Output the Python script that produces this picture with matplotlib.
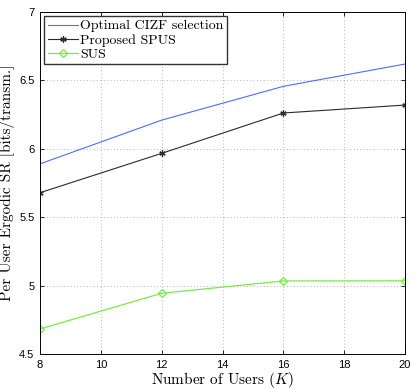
import numpy as np
import matplotlib
matplotlib.use("Agg")
import matplotlib.pyplot as plt

# Data
users = [8, 12, 16, 20]
optimal_cizf = [5.89, 6.21, 6.457, 6.62]
proposed_spus = [5.679, 5.967, 6.262, 6.32]
sus = [4.683, 4.944, 5.034, 5.035]

plt.rcParams['mathtext.fontset'] = 'cm'

fig = plt.figure(figsize=(4.15, 3.89), dpi=100)
ax = fig.add_axes([0.0964, 0.09, 0.8796, 0.879])

ax.plot(users, optimal_cizf, color='#4f6cff', lw=0.8, label='Optimal CIZF selection')
ax.plot(users, proposed_spus, color='#2b2b2b', lw=0.8, marker=(6, 2, 0), ms=4.5,
        mew=0.9, label='Proposed SPUS')
ax.plot(users, sus, color='#7ce84a', lw=0.9, marker='D', ms=4.5, mfc='none',
        mew=0.9, label='SUS')

ax.set_xlim(8, 20)
ax.set_ylim(4.5, 7)
ax.set_xticks(np.arange(8, 21, 2))
ax.set_yticks([4.5, 5, 5.5, 6, 6.5, 7])
ax.set_yticklabels(['4.5', '5', '5.5', '6', '6.5', '7'])
ax.tick_params(direction='in', labelsize=8, length=3, width=0.6, top=True, right=True, pad=4)
for lab in ax.get_xticklabels() + ax.get_yticklabels():
    lab.set_family('Liberation Sans')
for s in ax.spines.values():
    s.set_linewidth(0.7)
ax.grid(True, linestyle=(0, (1, 3)), color='#9a9a9a', lw=0.6)

ax.set_xlabel(r'Number of Users ($K$)', fontfamily='cmr10', fontsize=11, labelpad=0)
ax.set_ylabel(r'Per User Ergodic SR [bits/transm.]', fontfamily='cmr10', fontsize=11, labelpad=3)

leg = ax.legend(loc='upper left', fancybox=False, edgecolor='#333333', framealpha=1,
                borderaxespad=0.3, prop={'family': 'cmr10', 'size': 10},
                handlelength=2.2, handletextpad=0.15, borderpad=0.25, labelspacing=0.1)
leg.get_frame().set_linewidth(1.0)

fig.savefig('out.png', dpi=100)
